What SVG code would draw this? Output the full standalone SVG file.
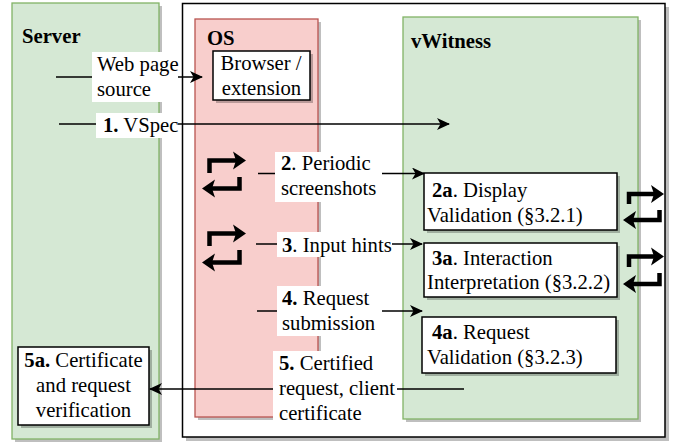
<svg xmlns="http://www.w3.org/2000/svg" width="676" height="445" viewBox="0 0 676 445">
<defs>
<style>
text{font-family:"Liberation Serif","Times New Roman",serif;font-size:20.7px;fill:#000}
.b{font-weight:bold}
.sh{fill:#000;opacity:0.25}
.box{fill:#fff;stroke:#000;stroke-width:1.5}
.ln{fill:none;stroke:#000;stroke-width:1.3}
.lbl{fill:#fff}
.loop{fill:none;stroke:#000;stroke-width:4.5}
.ah{fill:#000}
</style>
<marker id="arr" markerUnits="userSpaceOnUse" viewBox="0 0 13 12" refX="12" refY="6" markerWidth="13" markerHeight="12" orient="auto">
<path d="M0,0 L13,6 L0,12 L3.5,6 Z" fill="#000"/>
</marker>
</defs>
<rect width="676" height="445" fill="#fff"/>

<g id="server">
<rect class="sh" x="15" y="6" width="147" height="436"/>
<rect x="12" y="3" width="147" height="436" fill="#d5e8d4" stroke="#82b366" stroke-width="1.3"/>
<text class="b" x="22" y="43">Server</text>
</g>

<g id="system">
<rect class="sh" x="186" y="7" width="483" height="434"/>
<rect x="182.5" y="3.5" width="482.5" height="433.5" fill="#fff" stroke="#000" stroke-width="1.5"/>
</g>

<g id="os">
<rect class="sh" x="198" y="22" width="123" height="398"/>
<rect x="195" y="19" width="123" height="398" fill="#f8cecc" stroke="#b85450" stroke-width="1.3"/>
<text class="b" x="207" y="45">OS</text>
</g>

<g id="browser">
<rect class="sh" x="216" y="54" width="97" height="49"/>
<rect class="box" x="213" y="51" width="97" height="49"/>
<text x="261" y="70" text-anchor="middle">Browser /</text>
<text x="261.5" y="94.5" text-anchor="middle">extension</text>
</g>

<g id="vwitness">
<rect class="sh" x="406" y="20" width="235" height="402"/>
<rect x="403" y="17" width="235" height="402" fill="#d5e8d4" stroke="#82b366" stroke-width="1.3"/>
<text class="b" x="411" y="48">vWitness</text>
</g>

<g id="display-validation">
<rect class="sh" x="427" y="176" width="193" height="57"/>
<rect class="box" x="424" y="173" width="193" height="57"/>
<text x="432" y="197"><tspan class="b">2a</tspan>. Display</text>
<text x="427" y="222">Validation (§3.2.1)</text>
</g>

<g id="interaction-interpretation">
<rect class="sh" x="427" y="246" width="193" height="54"/>
<rect class="box" x="424" y="243" width="193" height="54"/>
<text x="432" y="265"><tspan class="b">3a</tspan>. Interaction</text>
<text x="427" y="289">Interpretation (§3.2.2)</text>
</g>

<g id="request-validation">
<rect class="sh" x="425" y="320" width="194" height="56"/>
<rect class="box" x="422" y="317" width="194" height="56"/>
<text x="432" y="339"><tspan class="b">4a</tspan>. Request</text>
<text x="427" y="364">Validation (§3.2.3)</text>
</g>

<g id="verification">
<rect class="sh" x="21" y="350" width="131" height="78"/>
<rect class="box" x="18" y="347" width="131" height="78"/>
<text x="83.5" y="367" text-anchor="middle"><tspan class="b">5a.</tspan> Certificate</text>
<text x="83.5" y="392" text-anchor="middle">and request</text>
<text x="83.5" y="417" text-anchor="middle">verification</text>
</g>

<g id="loop-icons">
<path class="loop" d="M209.5,173 V160.5 H237"/>
<path class="ah" d="M233,151.5 L246,160.5 L233,169.5 L236,160.5 Z"/>
<path class="loop" d="M239.5,177 V188.5 H212"/>
<path class="ah" d="M215,179.5 L202,188.5 L215,197.5 L212,188.5 Z"/>

<path class="loop" d="M209.5,246 V233.5 H237"/>
<path class="ah" d="M233,224.5 L246,233.5 L233,242.5 L236,233.5 Z"/>
<path class="loop" d="M239.5,250 V262.5 H212"/>
<path class="ah" d="M215,253.5 L202,262.5 L215,271.5 L212,262.5 Z"/>

<path class="loop" d="M629,204 V194 H655"/>
<path class="ah" d="M651,185 L664,194 L651,203 L654,194 Z"/>
<path class="loop" d="M659.5,210 V220 H632"/>
<path class="ah" d="M636,211 L623,220 L636,229 L633,220 Z"/>

<path class="loop" d="M629,267 V256.5 H655"/>
<path class="ah" d="M651,247.5 L664,256.5 L651,265.5 L654,256.5 Z"/>
<path class="loop" d="M659.5,273 V284 H632"/>
<path class="ah" d="M636,275 L623,284 L636,293 L633,284 Z"/>
</g>

<g id="connectors">
<line class="ln" x1="56" y1="77" x2="202" y2="77" marker-end="url(#arr)"/>
<rect class="lbl" x="92" y="52" width="86" height="50"/>
<text x="97" y="71">Web page</text>
<text x="97" y="96">source</text>

<line class="ln" x1="59" y1="124" x2="449" y2="124" marker-end="url(#arr)"/>
<rect class="lbl" x="96" y="113" width="82" height="25"/>
<text x="103" y="132"><tspan class="b">1.</tspan> VSpec</text>

<line class="ln" x1="258" y1="173.5" x2="424" y2="173.5" marker-end="url(#arr)"/>
<rect class="lbl" x="275" y="152" width="107" height="50"/>
<text x="281" y="170"><tspan class="b">2</tspan>. Periodic</text>
<text x="281" y="195">screenshots</text>

<line class="ln" x1="256" y1="244" x2="422" y2="244" marker-end="url(#arr)"/>
<rect class="lbl" x="277" y="232" width="115" height="25"/>
<text x="282" y="252"><tspan class="b">3</tspan>. Input hints</text>

<line class="ln" x1="257" y1="311" x2="422" y2="311" marker-end="url(#arr)"/>
<rect class="lbl" x="277" y="286" width="105" height="50"/>
<text x="282" y="305"><tspan class="b">4.</tspan> Request</text>
<text x="282" y="330">submission</text>

<line class="ln" x1="464" y1="389" x2="150" y2="389" marker-end="url(#arr)"/>
<rect class="lbl" x="273" y="351" width="124" height="75"/>
<text x="279" y="370"><tspan class="b">5.</tspan> Certified</text>
<text x="279" y="395">request, client</text>
<text x="279" y="420">certificate</text>
</g>
</svg>
